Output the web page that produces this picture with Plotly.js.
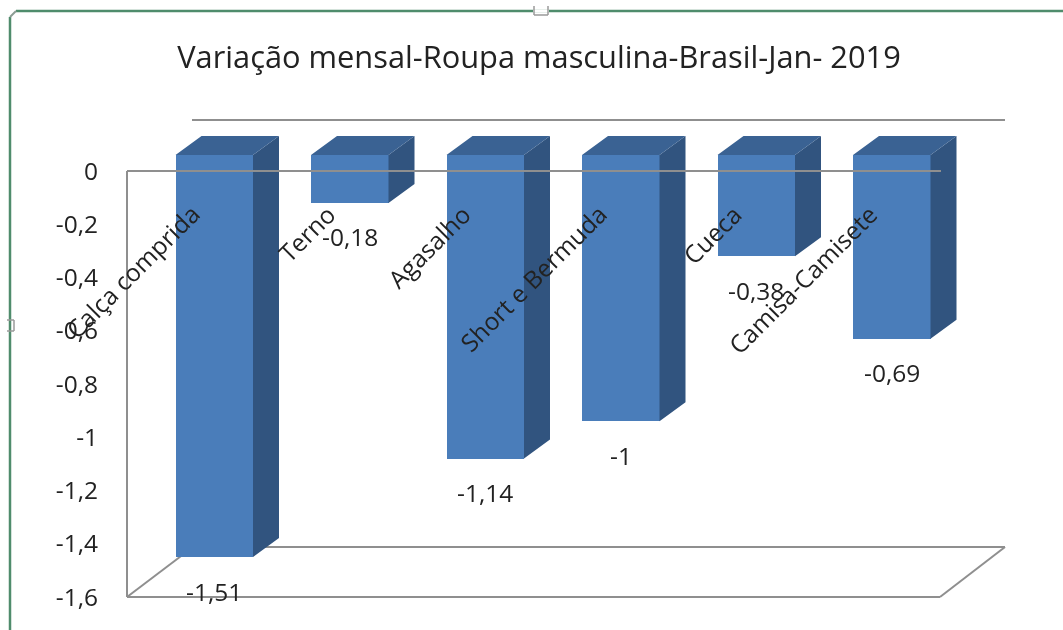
<!DOCTYPE html>
<html>
<head>
<meta charset="utf-8">
<script src="https://cdn.plot.ly/plotly-3.0.1.min.js"></script>
<style>html,body{margin:0;padding:0;background:#fff;overflow:hidden}#chart{filter:blur(0.6px)}</style>
</head>
<body>
<div id="chart" style="width:1063px;height:630px"></div>
<script>
const categories = ["Calça comprida","Terno","Agasalho","Short e Bermuda","Cueca","Camisa-Camisete"];
const values = [-1.51,-0.18,-1.14,-1,-0.38,-0.69];
const tickValues = [0,-0.2,-0.4,-0.6,-0.8,-1,-1.2,-1.4,-1.6];
const tickLabels = ["0","-0,2","-0,4","-0,6","-0,8","-1","-1,2","-1,4","-1,6"];
const chartTitle = "Variação mensal-Roupa masculina-Brasil-Jan- 2019";

const W = 1063, H = 630, L = 122, R = 1010, T = 114, B = 602;
const zeroPx = 171, pxPerCat = 135.5, pxPerUnit = 266.25, firstCenter = 214.25;
const barPx = 77.5, depthX = 26, depthY = 19, liftPx = 16;
const FONT = '"Open Sans", sans-serif';
const TEXT = '#222222', AXIS = '#8f8f8f';

const catAt = p => (p-firstCenter)/pxPerCat;
const valAt = p => (zeroPx-p)/pxPerUnit;
const xRange = [catAt(L), catAt(R)];
const yRange = [valAt(B), valAt(T)];
const w = barPx/pxPerCat, dx = depthX/pxPerCat, dy = depthY/pxPerUnit, lift = liftPx/pxPerUnit;

const sideX=[], sideY=[], topX=[], topY=[];
values.forEach((v,i)=>{
  const a=i-w/2, b=i+w/2;
  sideX.push(b,b+dx,b+dx,b,b,null);
  sideY.push(lift,lift+dy,lift+dy+v,lift+v,lift,null);
  topX.push(a,a+dx,b+dx,b,a,null);
  topY.push(lift,lift+dy,lift+dy,lift,lift,null);
});
const idx = categories.map((_,i)=>i);

const traces = [
  {type:'bar',x:idx,y:values,base:values.map(()=>lift),width:w,
   marker:{color:'#4A7DBA',line:{width:0}},hoverinfo:'skip'},
  {type:'scatter',mode:'lines',x:sideX,y:sideY,fill:'toself',fillcolor:'#31547F',
   line:{width:0,color:'#31547F'},hoverinfo:'skip'},
  {type:'scatter',mode:'lines',x:topX,y:topY,fill:'toself',fillcolor:'#3A6293',
   line:{width:0,color:'#3A6293'},hoverinfo:'skip'}
];

// frame of the 3D box, in pixel positions converted through the axes
const boxLine=(x0,y0,x1,y1,layer)=>({type:'line',xref:'x',yref:'y',
  x0:catAt(x0),y0:valAt(y0),x1:catAt(x1),y1:valAt(y1),layer,line:{color:AXIS,width:2}});
const paperLine=(x0,y0,x1,y1,color,width)=>({type:'line',xref:'paper',yref:'paper',
  x0:(x0-L)/(R-L),x1:(x1-L)/(R-L),y0:(B-y0)/(B-T),y1:(B-y1)/(B-T),layer:'above',
  line:{color,width}});

const shapes = [
  boxLine(127,171,127,597,'below'),
  boxLine(127,597,940,597,'below'),
  boxLine(127,597,193,547,'below'),
  boxLine(940,597,1005,547,'below'),
  boxLine(193,547,1005,547,'below'),
  boxLine(192,120,1005,120,'below'),
  boxLine(127,171,941,171,'above'),
  // selection frame of the screenshot
  paperLine(16,11,1063,11,'#4F8C6C',2.5),
  paperLine(10,17,10,630,'#4F8C6C',2.5),
  paperLine(10,17,16,11,'#8c9c94',2),
  paperLine(533,11,549,11,'#ffffff',3),
  paperLine(534,6,534,15,'#9a9a9a',1.5),
  paperLine(548,6,548,15,'#9a9a9a',1.5),
  paperLine(534,15,548,15,'#9a9a9a',1.5),
  paperLine(7,320,14,320,'#9a9a9a',1.5),
  paperLine(7,331,14,331,'#9a9a9a',1.5),
  paperLine(14,320,14,331,'#9a9a9a',1.5)
];

const annotations = [];
values.forEach((v,i)=>{
  annotations.push({x:i,y:0,xref:'x',yref:'y',text:categories[i],showarrow:false,textangle:-45,
    xanchor:'right',yanchor:'top',xshift:-5,yshift:-24,font:{family:FONT,size:24.5,color:TEXT}});
  annotations.push({x:i,y:lift+v,xref:'x',yref:'y',text:String(v).replace('.',','),showarrow:false,
    xanchor:'center',yanchor:'middle',yshift:-34,font:{family:FONT,size:24.5,color:TEXT}});
});

const layout = {
  width:W,height:H,autosize:false,showlegend:false,
  paper_bgcolor:'#fff',plot_bgcolor:'rgba(0,0,0,0)',
  margin:{l:L,r:W-R,t:T,b:H-B,pad:0},
  title:{text:chartTitle,font:{family:FONT,size:30.8,color:TEXT},x:539/W,xanchor:'center',y:1-57/H,yanchor:'middle'},
  bargap:0,
  xaxis:{range:xRange,visible:false,fixedrange:true},
  yaxis:{range:yRange,tickmode:'array',tickvals:tickValues,ticktext:tickLabels,showgrid:false,zeroline:false,
    showline:false,ticks:'outside',ticklen:18,tickcolor:'rgba(0,0,0,0)',tickwidth:1,
    tickfont:{family:FONT,size:24.5,color:TEXT},fixedrange:true},
  shapes,annotations
};
Plotly.newPlot('chart',traces,layout,{displayModeBar:false,staticPlot:true});
</script>
</body>
</html>
